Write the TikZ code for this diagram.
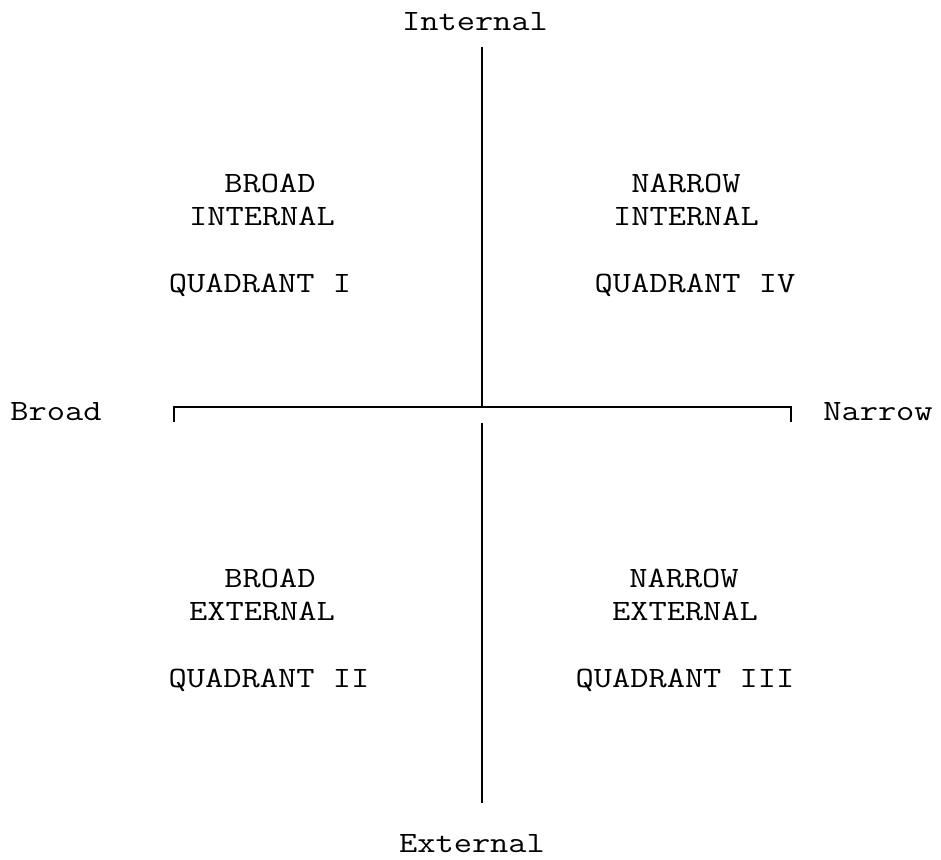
\documentclass[tikz,border=0pt]{standalone}
\usepackage{fontspec}
\setmonofont{Latin Modern Mono}[FakeStretch=1.2]
\begin{document}
\begin{tikzpicture}[x=1pt,y=-1pt,
  lbl/.style={font=\ttfamily\fontsize{29.5}{30}\selectfont, inner sep=0pt, anchor=base},
  axis/.style={line width=1.6pt, black}]
\useasboundingbox (0,0) rectangle (941,859);
% axis labels
\node[lbl] (internal) at (475,31) {Internal};
\node[lbl] (external) at (472,852) {External};
\node[lbl] (broad) at (56,420) {Broad};
\node[lbl] (narrow) at (878,420) {Narrow};
% quadrant I
\node[lbl] (q1a) at (270,192) {BROAD};
\node[lbl] (q1b) at (262,225) {INTERNAL};
\node[lbl] (q1c) at (260,292) {QUADRANT I};
% quadrant IV
\node[lbl] (q4a) at (686,192) {NARROW};
\node[lbl] (q4b) at (686,225) {INTERNAL};
\node[lbl] (q4c) at (695,292) {QUADRANT IV};
% quadrant II
\node[lbl] (q2a) at (270,587) {BROAD};
\node[lbl] (q2b) at (262,620) {EXTERNAL};
\node[lbl] (q2c) at (269,687) {QUADRANT II};
% quadrant III
\node[lbl] (q3a) at (684,587) {NARROW};
\node[lbl] (q3b) at (685,620) {EXTERNAL};
\node[lbl] (q3c) at (685,687) {QUADRANT III};
% axes
\coordinate (vtop) at (482,47);
\coordinate (ctr) at (482,407);
\coordinate (vlowtop) at (482,423);
\coordinate (vbot) at (482,803);
\coordinate (hl) at (174,407);
\coordinate (hr) at (791,407);
\coordinate (tl) at (174,422);
\coordinate (tr) at (791,422);
\draw[axis] (vtop) -- (ctr);
\draw[axis, line join=miter] (tl) -- (hl) -- (hr) -- (tr);
\draw[axis] (vlowtop) -- (vbot);
\end{tikzpicture}
\end{document}
